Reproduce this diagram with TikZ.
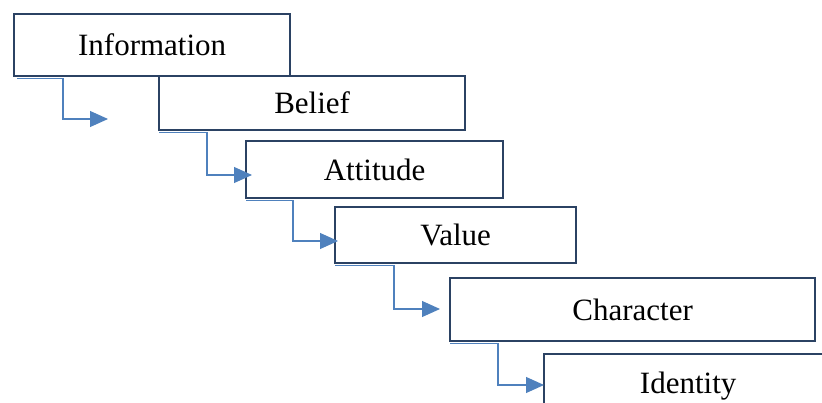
\documentclass[tikz,border=0pt]{standalone}
\usepackage{fontspec}
\setmainfont{Liberation Serif}
\usetikzlibrary{arrows.meta,calc}
\definecolor{boxline}{HTML}{2B4263}
\definecolor{connblue}{HTML}{4F81BD}
\begin{document}
\begin{tikzpicture}[x=1pt,y=-1pt,
  stagebox/.style={draw=boxline,line width=2.3pt,fill=white,anchor=north west,
    inner sep=0pt,font=\fontsize{31}{36}\selectfont},
  conn/.style={draw=connblue,line width=1.1pt,-{Triangle[length=18pt,width=16pt]}}]
\useasboundingbox (0,0) rectangle (822,403);
\clip (0,0) rectangle (822,403);
\node[stagebox,minimum width=276pt,minimum height=62pt] (info) at (13,13) {Information};
\node[stagebox,minimum width=306pt,minimum height=54pt] (belief) at (158,75) {Belief};
\node[stagebox,minimum width=257pt,minimum height=57pt] (attitude) at (245,140) {Attitude};
\node[stagebox,minimum width=241pt,minimum height=56pt] (value) at (334,206) {Value};
\node[stagebox,minimum width=365pt,minimum height=63pt] (character) at (449,277) {Character};
\node[stagebox,minimum width=288pt,minimum height=64pt] (identity) at (543,353) {Identity};
\coordinate (e1) at (108,119);
\coordinate (e2) at (252,175);
\coordinate (e3) at (338,241);
\coordinate (e4) at (440,309);
\coordinate (e5) at (544,385);
\draw[conn] ([xshift=4pt,yshift=-1pt]info.south west) -- ++(46,0) |- (e1);
\draw[conn] ([xshift=1pt,yshift=-1pt]belief.south west) -- ++(48,0) |- (e2);
\draw[conn] ([xshift=1pt,yshift=-1pt]attitude.south west) -- ++(47,0) |- (e3);
\draw[conn] ([xshift=1pt,yshift=-1pt]value.south west) -- ++(59,0) |- (e4);
\draw[conn] ([xshift=1pt,yshift=-1pt]character.south west) -- ++(48,0) |- (e5);
\end{tikzpicture}
\end{document}
